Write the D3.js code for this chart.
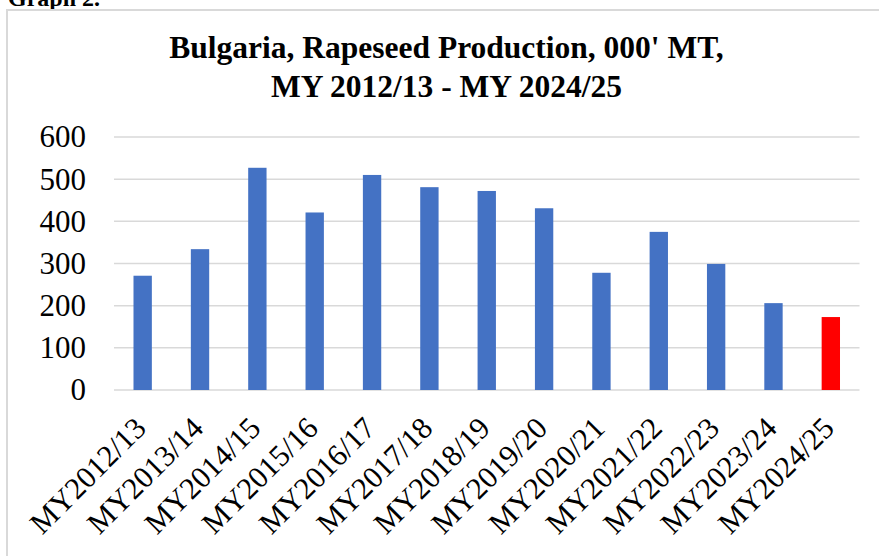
<!DOCTYPE html>
<html>
<head>
<meta charset="utf-8">
<script src="https://cdn.jsdelivr.net/npm/d3@7"></script>
<style>
  body { margin: 0; background: #fff; }
  svg { display: block; }
</style>
</head>
<body>
<script>
'use strict';

// marketing years and production (000 MT)
const years = ["MY2012/13", "MY2013/14", "MY2014/15", "MY2015/16", "MY2016/17",
  "MY2017/18", "MY2018/19", "MY2019/20", "MY2020/21", "MY2021/22",
  "MY2022/23", "MY2023/24", "MY2024/25"];
const production = [271, 334, 527, 421, 510, 481, 472, 431, 278, 375, 299, 206, 173];
const yTicks = [0, 100, 200, 300, 400, 500, 600];
const titleLines = ["Bulgaria, Rapeseed Production, 000' MT,", "MY 2012/13 - MY 2024/25"];

const width = 879, height = 556;
const serif = "Liberation Serif, Times New Roman, serif";

const svg = d3.select("body").append("svg")
  .attr("width", width)
  .attr("height", height);

// caption above the chart frame (cut off at the top, as in the source)
svg.append("text")
  .attr("x", 8)
  .attr("y", 6)
  .style("font-family", serif)
  .style("font-weight", "bold")
  .style("font-size", "24px")
  .text("Graph 2.");

// chart frame
svg.append("rect")
  .attr("x", 7)
  .attr("y", 10)
  .attr("width", 880)
  .attr("height", 560)
  .attr("fill", "#fff")
  .attr("stroke", "#d9d9d9")
  .attr("stroke-width", 2);

// title
svg.append("g").selectAll("text")
  .data(titleLines)
  .enter()
  .append("text")
    .attr("x", 446.5)
    .attr("y", (d, i) => 58 + i * 38.5)
    .attr("text-anchor", "middle")
    .style("font-family", serif)
    .style("font-weight", "bold")
    .style("font-size", "31.5px")
    .text(d => d);

let x = d3.scaleBand()
  .domain(years)
  .range([114, 859.5])
  .paddingInner(0.68)
  .paddingOuter(0.34);

let y = d3.scaleLinear()
  .domain([0, 600])
  .range([390, 137]);

// gridlines
svg.append("g").selectAll("line")
  .data(yTicks)
  .enter()
  .append("line")
    .attr("x1", 114)
    .attr("x2", 859.5)
    .attr("y1", d => y(d))
    .attr("y2", d => y(d))
    .attr("stroke", "#d9d9d9")
    .attr("stroke-width", 1.5);

// y axis labels
let yAxis = d3.axisLeft(y).tickValues(yTicks).tickSize(0).tickPadding(0);
let yg = svg.append("g")
  .attr("transform", "translate(86, 0)")
  .call(yAxis);
yg.attr("font-family", null).attr("font-size", null);
yg.select(".domain").remove();
yg.selectAll("text")
  .style("font-family", serif)
  .style("font-size", "31px")
  .attr("fill", "#000");

// bars
svg.append("g").selectAll("rect")
  .data(production)
  .enter()
  .append("rect")
    .attr("x", (d, i) => x(years[i]))
    .attr("y", d => y(d))
    .attr("width", x.bandwidth())
    .attr("height", d => y(0) - y(d))
    .attr("fill", (d, i) => i === years.length - 1 ? "#ff0000" : "#4472c4");

// x axis labels, rotated
let xAxis = d3.axisBottom(x).tickSize(0).tickPadding(0);
let xg = svg.append("g")
  .attr("transform", "translate(0, 390)")
  .call(xAxis);
xg.attr("font-family", null).attr("font-size", null);
xg.select(".domain").remove();
xg.selectAll("text")
  .style("font-family", serif)
  .style("font-size", "30.5px")
  .attr("fill", "#000")
  .attr("text-anchor", "end")
  .attr("dy", "0")
  .attr("y", 0)
  .attr("transform", "translate(5, 40) rotate(-45)");
</script>
</body>
</html>
